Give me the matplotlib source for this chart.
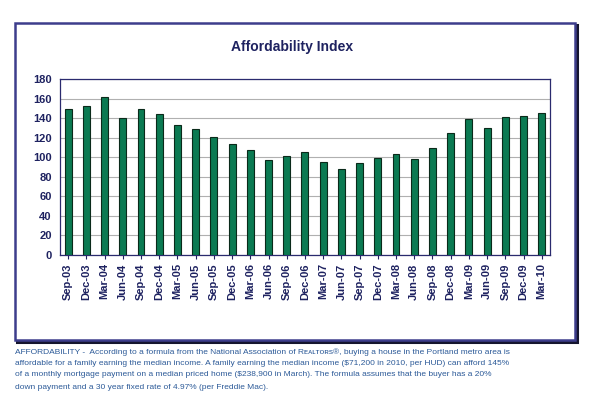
import matplotlib
matplotlib.use("Agg")
import matplotlib.pyplot as plt
from matplotlib import font_manager
from matplotlib.patches import Rectangle

plt.rcParams["font.family"] = ["Liberation Sans", "DejaVu Sans"]

# pick the regular-width bold face, not the narrow one
bold_file = None
for f in font_manager.fontManager.ttflist:
    if f.name == "Liberation Sans" and f.weight in (700, "bold") and f.style == "normal" \
            and "Narrow" not in f.fname:
        bold_file = f.fname
        break


def bold(size):
    if bold_file:
        return font_manager.FontProperties(fname=bold_file, size=size)
    return font_manager.FontProperties(family="DejaVu Sans", weight="bold", size=size)


# data
quarters = ["Sep-03", "Dec-03", "Mar-04", "Jun-04", "Sep-04", "Dec-04", "Mar-05",
            "Jun-05", "Sep-05", "Dec-05", "Mar-06", "Jun-06", "Sep-06", "Dec-06",
            "Mar-07", "Jun-07", "Sep-07", "Dec-07", "Mar-08", "Jun-08", "Sep-08",
            "Dec-08", "Mar-09", "Jun-09", "Sep-09", "Dec-09", "Mar-10"]
index_values = [149, 152, 162, 140, 149, 144, 133, 129, 121, 113, 107, 97, 101, 105,
                95, 88, 94, 99, 103, 98, 109, 125, 139, 130, 141, 142, 145]
y_ticks = [0, 20, 40, 60, 80, 100, 120, 140, 160, 180]

caption = [
    "AFFORDABILITY -  According to a formula from the National Association of R\u1d07\u1d00\u029f\u1d1b\u1d0f\u0280s\u00ae, buying a house in the Portland metro area is",
    "affordable for a family earning the median income. A family earning the median income (\\$71,200 in 2010, per HUD) can afford 145%",
    "of a monthly mortgage payment on a median priced home (\\$238,900 in March). The formula assumes that the buyer has a 20%",
    "down payment and a 30 year fixed rate of 4.97% (per Freddie Mac).",
]

navy = "#1e2260"
fig = plt.figure(figsize=(5.91, 3.99), dpi=100)

# outer frame with a little shadow
fig.patches.append(Rectangle((0.029, 0.143), 0.948, 0.795, transform=fig.transFigure,
                             facecolor="none", edgecolor="#15152e", linewidth=2.2, zorder=0))
fig.patches.append(Rectangle((0.0254, 0.148), 0.947, 0.794, transform=fig.transFigure,
                             facecolor="white", edgecolor="#3d3d8c", linewidth=1.8, zorder=1))

ax = fig.add_axes([0.1015, 0.361, 0.829, 0.441])
ax.set_zorder(2)
x = range(len(quarters))
ax.bar(x, index_values, width=0.38, color="#0b7a52", edgecolor="#0a2a1a", linewidth=0.8, zorder=3)
ax.set_xlim(-0.45, len(quarters) - 0.55)
ax.set_ylim(0, 180)
ax.set_yticks(y_ticks)
ax.set_xticks(list(x))
ax.set_xticklabels(quarters, rotation=90)
ax.yaxis.grid(True, color="#b0b0b0", linewidth=0.8, zorder=0)
ax.tick_params(axis="both", colors=navy, length=0, pad=6)
ax.tick_params(axis="x", length=3, pad=3)
for lab in ax.get_xticklabels() + ax.get_yticklabels():
    lab.set_fontproperties(bold(8))
    lab.set_color(navy)
for s in ax.spines.values():
    s.set_color("#2a2a6e")
    s.set_linewidth(0.9)

fig.text(0.494, 0.882, "Affordability Index", ha="center", va="center",
         fontproperties=bold(10), color=navy)

ys = [0.118, 0.088, 0.061, 0.028]
for line, yy in zip(caption, ys):
    fig.text(0.026, yy, line, ha="left", va="center", fontsize=6.0, color="#2c5a98")

fig.savefig("out.png", dpi=100)
